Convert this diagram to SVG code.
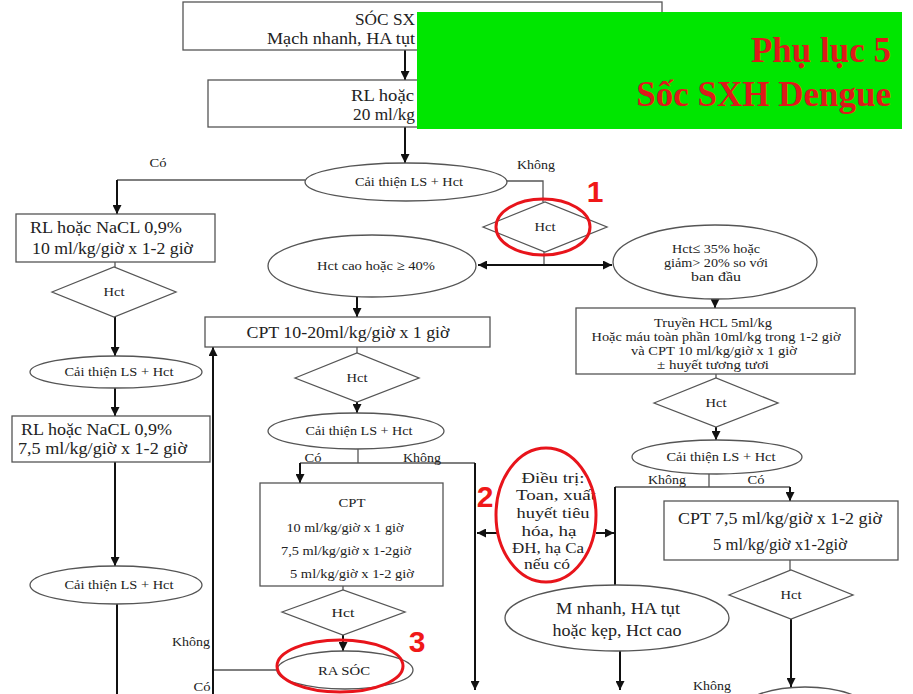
<svg xmlns="http://www.w3.org/2000/svg" width="913" height="694" viewBox="0 0 913 694">
<defs>
<marker id="ah" viewBox="0 0 10 10" refX="10" refY="5" markerWidth="9" markerHeight="9" markerUnits="userSpaceOnUse" orient="auto-start-reverse">
<path d="M0,0 L10,5 L0,10 z" fill="#111"/>
</marker>
<style>
.s{fill:#fff;stroke:#555;stroke-width:1.3}
.l{fill:none;stroke:#555;stroke-width:1.3}
.c{fill:none;stroke:#111;stroke-width:2}
.a{marker-end:url(#ah)}
.t{font-family:"Liberation Serif","Times New Roman",serif;fill:#222;text-anchor:middle}
.sm{font-size:12.5px}
.md{font-size:13.5px}
.xs{font-size:12px}
.dt{font-size:15px}
.lg{font-size:17px}
.r{fill:none;stroke:#e8141b;stroke-width:3}
.n{font-family:"Liberation Sans",Arial,sans-serif;font-weight:bold;font-size:30px;fill:#f01818}
.ti{font-family:"Liberation Serif","Times New Roman",serif;font-weight:bold;font-size:35px;fill:#dd1a1a;text-anchor:end}
</style>
</defs>
<rect width="913" height="694" fill="#fff"/>

<g id="connectors">
<line class="c a" x1="405" y1="50" x2="405" y2="80"/>
<line class="c a" x1="405" y1="127" x2="405" y2="163"/>
<line class="l" x1="305" y1="180" x2="117" y2="180"/>
<line class="c a" x1="117" y1="180" x2="117" y2="214"/>
<polyline class="l" points="506,181 543,181 543,202"/>
<line class="l" x1="115" y1="262" x2="115" y2="267"/>
<line class="c a" x1="115" y1="317" x2="115" y2="356"/>
<line class="c a" x1="115" y1="388" x2="115" y2="416"/>
<line class="c a" x1="115" y1="462" x2="115" y2="566"/>
<line class="c" x1="117" y1="604" x2="117" y2="694"/>
<line class="l" x1="544" y1="252" x2="544" y2="265"/>
<line class="c a" x1="478" y1="265" x2="612" y2="265" style="marker-start:url(#ah)"/>
<line class="c a" x1="357" y1="297" x2="357" y2="317"/>
<line class="l" x1="357" y1="347" x2="357" y2="353"/>
<line class="c a" x1="357" y1="402" x2="357" y2="413"/>
<line class="l" x1="358" y1="449" x2="358" y2="463"/>
<line class="l" x1="300" y1="463" x2="475" y2="463"/>
<line class="c a" x1="300" y1="463" x2="300" y2="483"/>
<line class="c a" x1="475" y1="463" x2="475" y2="690"/>
<line class="l" x1="343" y1="586" x2="343" y2="590"/>
<line class="c a" x1="343" y1="635" x2="343" y2="651"/>
<line class="l" x1="277" y1="670" x2="213" y2="670"/>
<line class="c a" x1="213" y1="694" x2="213" y2="347"/>
<line class="c a" x1="715" y1="299" x2="715" y2="308"/>
<line class="l" x1="716" y1="374" x2="716" y2="378"/>
<line class="c a" x1="716" y1="427" x2="716" y2="440"/>
<line class="l" x1="709" y1="474" x2="709" y2="487"/>
<line class="l" x1="615" y1="487" x2="790" y2="487"/>
<line class="c a" x1="790" y1="487" x2="790" y2="501"/>
<line class="c" x1="615" y1="487" x2="615" y2="585"/>
<line class="c a" x1="497" y1="533" x2="477" y2="533"/>
<line class="c a" x1="596" y1="533" x2="614" y2="533"/>
<line class="l" x1="790" y1="560" x2="790" y2="570"/>
<line class="c a" x1="791" y1="619" x2="791" y2="687"/>
<line class="c a" x1="620" y1="651" x2="620" y2="690"/>
<text class="t sm" x="158" y="167" textLength="17" lengthAdjust="spacingAndGlyphs">Có</text>
<text class="t sm" x="536" y="169" textLength="38" lengthAdjust="spacingAndGlyphs">Không</text>
<text class="t sm" x="313" y="462" textLength="17" lengthAdjust="spacingAndGlyphs">Có</text>
<text class="t sm" x="422" y="462" textLength="38" lengthAdjust="spacingAndGlyphs">Không</text>
<text class="t sm" x="667" y="484" textLength="38" lengthAdjust="spacingAndGlyphs">Không</text>
<text class="t sm" x="756" y="484" textLength="17" lengthAdjust="spacingAndGlyphs">Có</text>
<text class="t sm" x="191" y="646" textLength="38" lengthAdjust="spacingAndGlyphs">Không</text>
<text class="t sm" x="202" y="691" textLength="17" lengthAdjust="spacingAndGlyphs">Có</text>
<text class="t sm" x="712" y="690" textLength="38" lengthAdjust="spacingAndGlyphs">Không</text>
</g>

<g id="n-shock">
<rect class="s" x="183" y="2" width="479" height="48"/>
<text class="t lg" x="355" y="25" style="text-anchor:start" textLength="60" lengthAdjust="spacingAndGlyphs">SÓC SX</text>
<text class="t lg" x="267" y="44" style="text-anchor:start" textLength="148" lengthAdjust="spacingAndGlyphs">Mạch nhanh, HA tụt</text>
</g>
<g id="n-rl20">
<rect class="s" x="208" y="80" width="394" height="47"/>
<text class="t lg" x="351" y="101" style="text-anchor:start" textLength="63" lengthAdjust="spacingAndGlyphs">RL hoặc</text>
<text class="t lg" x="353" y="120" style="text-anchor:start" textLength="62" lengthAdjust="spacingAndGlyphs">20 ml/kg</text>
</g>
<g id="n-ct1">
<ellipse class="s" cx="406" cy="182" rx="101" ry="19"/>
<text class="t sm" x="409" y="186" textLength="108" lengthAdjust="spacingAndGlyphs">Cải thiện LS + Hct</text>
</g>
<g id="n-rl10">
<rect class="s" x="16" y="214" width="199" height="48"/>
<text class="t lg" x="30" y="233" style="text-anchor:start" textLength="152" lengthAdjust="spacingAndGlyphs">RL hoặc NaCL 0,9%</text>
<text class="t lg" x="32" y="254" style="text-anchor:start" textLength="161" lengthAdjust="spacingAndGlyphs">10 ml/kg/giờ x 1-2 giờ</text>
</g>
<g id="n-hct-l1">
<polygon class="s" points="52,292 114,267 176,292 114,317"/>
<text class="t sm" x="114" y="296" textLength="21" lengthAdjust="spacingAndGlyphs">Hct</text>
</g>
<g id="n-ct-l1">
<ellipse class="s" cx="116" cy="372" rx="86" ry="16"/>
<text class="t sm" x="119" y="376" textLength="109" lengthAdjust="spacingAndGlyphs">Cải thiện LS + Hct</text>
</g>
<g id="n-rl75">
<rect class="s" x="12" y="416" width="198" height="46"/>
<text class="t lg" x="21" y="435" style="text-anchor:start" textLength="151" lengthAdjust="spacingAndGlyphs">RL hoặc NaCL 0,9%</text>
<text class="t lg" x="18" y="454" style="text-anchor:start" textLength="169" lengthAdjust="spacingAndGlyphs">7,5 ml/kg/giờ x 1-2 giờ</text>
</g>
<g id="n-ct-l2">
<ellipse class="s" cx="116" cy="585" rx="86" ry="19"/>
<text class="t sm" x="119" y="589" textLength="109" lengthAdjust="spacingAndGlyphs">Cải thiện LS + Hct</text>
</g>
<g id="n-hct1">
<polygon class="s" points="483,227 545,202 607,227 545,252"/>
<text class="t sm" x="545" y="231" textLength="21" lengthAdjust="spacingAndGlyphs">Hct</text>
</g>
<g id="n-hctcao">
<ellipse class="s" cx="372" cy="266" rx="104" ry="31"/>
<text class="t md" x="376" y="270" textLength="118" lengthAdjust="spacingAndGlyphs">Hct cao hoặc ≥ 40%</text>
</g>
<g id="n-hct35">
<ellipse class="s" cx="715" cy="262" rx="102" ry="37"/>
<text class="t md" x="716" y="253" textLength="88" lengthAdjust="spacingAndGlyphs">Hct≤ 35% hoặc</text>
<text class="t md" x="716" y="267" textLength="104" lengthAdjust="spacingAndGlyphs">giảm&gt; 20% so với</text>
<text class="t md" x="716" y="281" textLength="50" lengthAdjust="spacingAndGlyphs">ban đầu</text>
</g>
<g id="n-cpt1020">
<rect class="s" x="205" y="317" width="285" height="30"/>
<text class="t" x="348" y="338" style="font-size:17px" textLength="203" lengthAdjust="spacingAndGlyphs">CPT 10-20ml/kg/giờ x 1 giờ</text>
</g>
<g id="n-hct-m1">
<polygon class="s" points="295,378 357,353 419,378 357,402"/>
<text class="t sm" x="357" y="382" textLength="21" lengthAdjust="spacingAndGlyphs">Hct</text>
</g>
<g id="n-ct-m">
<ellipse class="s" cx="356" cy="431" rx="88" ry="18"/>
<text class="t md" x="359" y="435" textLength="107" lengthAdjust="spacingAndGlyphs">Cải thiện LS + Hct</text>
</g>
<g id="n-cpt">
<rect class="s" x="260" y="483" width="183" height="103"/>
<text class="t md" x="352" y="507" textLength="27" lengthAdjust="spacingAndGlyphs">CPT</text>
<text class="t md" x="345" y="532" textLength="117" lengthAdjust="spacingAndGlyphs">10 ml/kg/giờ x 1 giờ</text>
<text class="t md" x="346" y="555" textLength="130" lengthAdjust="spacingAndGlyphs">7,5 ml/kg/giờ x 1-2giờ</text>
<text class="t md" x="352" y="578" textLength="124" lengthAdjust="spacingAndGlyphs">5 ml/kg/giờ x 1-2 giờ</text>
</g>
<g id="n-hct-m2">
<polygon class="s" points="282,612 343,590 405,612 343,635"/>
<text class="t md" x="343" y="617" textLength="23" lengthAdjust="spacingAndGlyphs">Hct</text>
</g>
<g id="n-rasoc">
<ellipse class="s" cx="345" cy="670" rx="68" ry="19"/>
<text class="t md" x="344" y="675" textLength="52" lengthAdjust="spacingAndGlyphs">RA SÓC</text>
</g>
<g id="n-truyen">
<rect class="s" x="576" y="308" width="279" height="66"/>
<text class="t xs" x="713" y="327" textLength="118" lengthAdjust="spacingAndGlyphs">Truyền HCL 5ml/kg</text>
<text class="t xs" x="716" y="341" textLength="249" lengthAdjust="spacingAndGlyphs">Hoặc máu toàn phần 10ml/kg trong 1-2 giờ</text>
<text class="t xs" x="714" y="355" textLength="166" lengthAdjust="spacingAndGlyphs">và CPT 10 ml/kg/giờ x 1 giờ</text>
<text class="t xs" x="713" y="369" textLength="112" lengthAdjust="spacingAndGlyphs">± huyết tương tươi</text>
</g>
<g id="n-hct-r1">
<polygon class="s" points="654,403 716,378 778,403 716,427"/>
<text class="t sm" x="716" y="407" textLength="21" lengthAdjust="spacingAndGlyphs">Hct</text>
</g>
<g id="n-ct-r">
<ellipse class="s" cx="717" cy="457" rx="85" ry="17"/>
<text class="t md" x="721" y="461" textLength="109" lengthAdjust="spacingAndGlyphs">Cải thiện LS + Hct</text>
</g>
<g id="n-cpt75">
<rect class="s" x="664" y="501" width="234" height="59"/>
<text class="t lg" x="780" y="524" textLength="204" lengthAdjust="spacingAndGlyphs">CPT 7,5 ml/kg/giờ x 1-2 giờ</text>
<text class="t lg" x="780" y="550" textLength="134" lengthAdjust="spacingAndGlyphs">5 ml/kg/giờ x1-2giờ</text>
</g>
<g id="n-hct-r2">
<polygon class="s" points="729,595 791,570 853,595 791,619"/>
<text class="t sm" x="791" y="599" textLength="21" lengthAdjust="spacingAndGlyphs">Hct</text>
</g>
<g id="n-mnhanh">
<ellipse class="s" cx="617" cy="618" rx="112" ry="33"/>
<text class="t lg" x="618" y="614" textLength="124" lengthAdjust="spacingAndGlyphs">M nhanh, HA tụt</text>
<text class="t lg" x="617" y="636" textLength="129" lengthAdjust="spacingAndGlyphs">hoặc kẹp, Hct cao</text>
</g>
<g id="n-bottom">
<ellipse class="s" cx="805" cy="727" rx="80" ry="40"/>
</g>
<g id="n-dieutri">
<ellipse class="s" cx="546" cy="515" rx="50" ry="67" style="stroke:none"/>
<text class="t dt" x="553" y="483" textLength="63" lengthAdjust="spacingAndGlyphs">Điều trị:</text>
<text class="t dt" x="556" y="500" textLength="80" lengthAdjust="spacingAndGlyphs">Toan, xuất</text>
<text class="t dt" x="553" y="518" textLength="73" lengthAdjust="spacingAndGlyphs">huyết tiêu</text>
<text class="t dt" x="549" y="536" textLength="55" lengthAdjust="spacingAndGlyphs">hóa, hạ</text>
<text class="t dt" x="548" y="553" textLength="72" lengthAdjust="spacingAndGlyphs">ĐH, hạ Ca</text>
<text class="t dt" x="547" y="569" textLength="46" lengthAdjust="spacingAndGlyphs">nếu có</text>
<ellipse class="r" cx="546" cy="515" rx="50" ry="67"/>
</g>

<g id="highlights">
<ellipse class="r" cx="543" cy="227" rx="47" ry="28"/>
<text class="n" x="595" y="202" text-anchor="middle">1</text>
<text class="n" x="485" y="507" text-anchor="middle">2</text>
<ellipse class="r" cx="340" cy="666" rx="63" ry="26"/>
<text class="n" x="417" y="652" text-anchor="middle">3</text>
</g>

<g id="title">
<rect x="417" y="12" width="485" height="117" fill="#00e600"/>
<text class="ti" x="891" y="62">Phụ lục 5</text>
<text class="ti" x="891" y="106">Sốc SXH Dengue</text>
</g>
</svg>
